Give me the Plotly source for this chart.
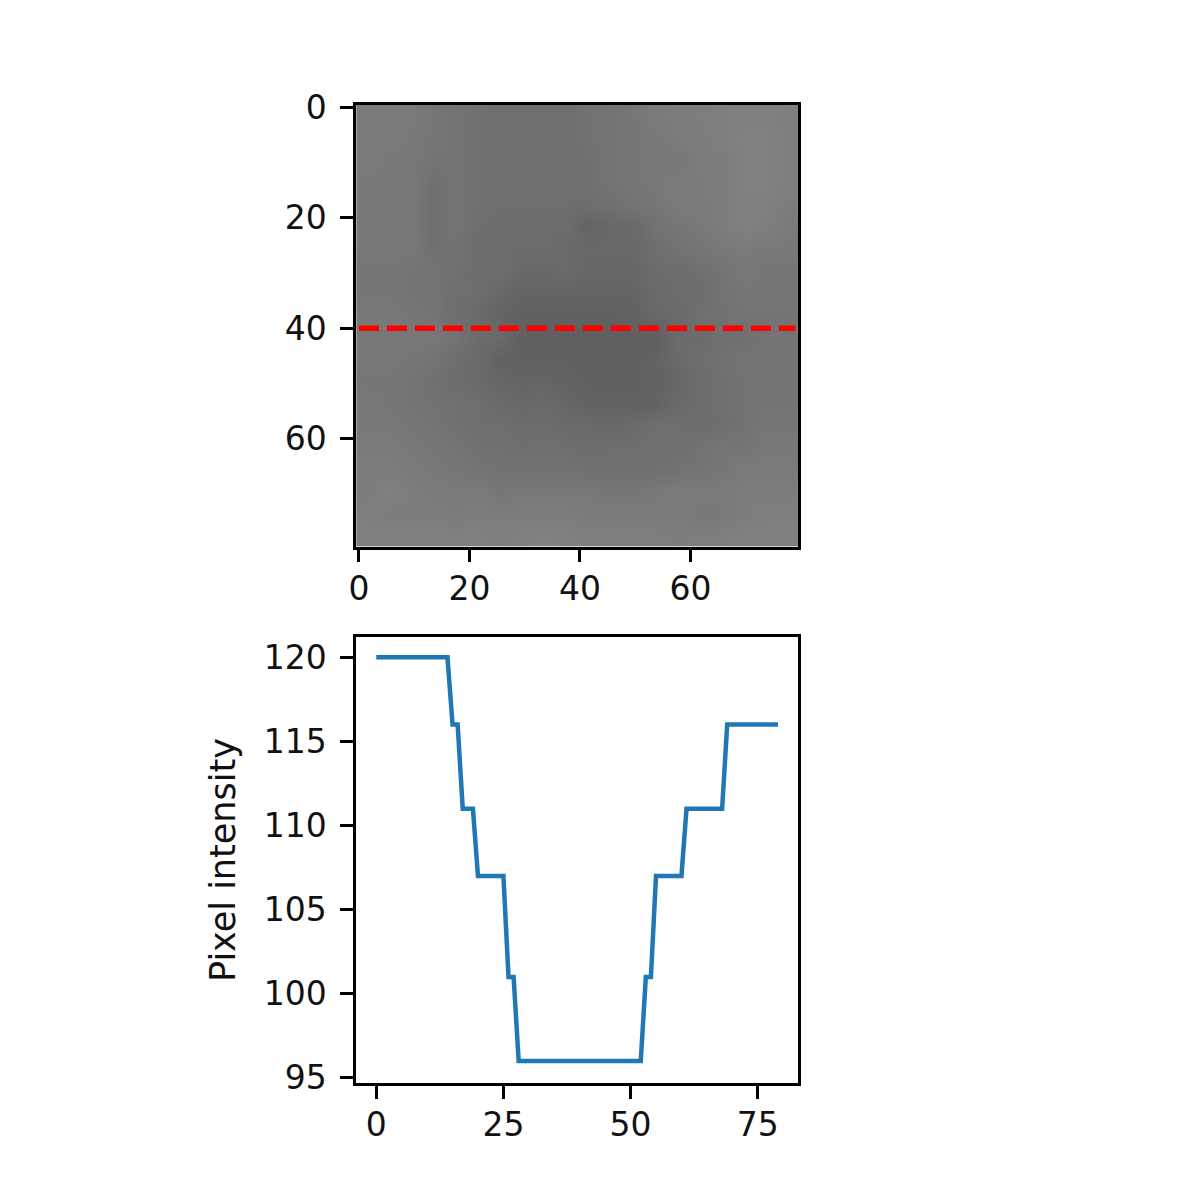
# -*- coding: utf-8 -*-
"""Grey image with a marked row and the intensity profile along that row."""

import plotly.graph_objects as go

# Edges of the image cells (4 pixels each)
CELL_EDGES = [-0.5 + 4 * i for i in range(21)]

IMAGE_ROWS = [
    [122, 122, 122, 118, 116, 112, 110, 110, 110, 110, 114, 116, 118, 122, 124, 125, 126, 128, 128, 126],
    [122, 122, 120, 118, 116, 112, 110, 110, 110, 110, 114, 116, 118, 120, 123, 124, 126, 130, 130, 126],
    [122, 120, 120, 116, 116, 112, 110, 110, 110, 110, 112, 116, 118, 120, 118, 124, 124, 130, 130, 126],
    [120, 120, 120, 112, 116, 112, 110, 110, 110, 110, 112, 116, 118, 120, 122, 122, 124, 130, 130, 126],
    [120, 120, 120, 110, 116, 112, 110, 110, 110, 110, 110, 112, 116, 118, 122, 122, 124, 128, 128, 124],
    [120, 120, 120, 110, 116, 110, 108, 108, 108, 108, 100, 104, 106, 114, 118, 120, 124, 128, 126, 122],
    [120, 120, 120, 112, 114, 108, 108, 108, 108, 106, 104, 104, 104, 110, 114, 118, 120, 122, 120, 120],
    [118, 118, 116, 116, 112, 108, 110, 104, 104, 106, 102, 102, 102, 108, 108, 112, 116, 120, 118, 118],
    [118, 118, 116, 116, 110, 110, 104, 100, 100, 100, 100, 100, 100, 106, 108, 108, 114, 118, 118, 118],
    [120, 120, 118, 116, 110, 106, 100, 97, 97, 97, 97, 97, 98, 104, 106, 112, 114, 116, 116, 116],
    [120, 120, 120, 120, 116, 107, 107, 96, 96, 96, 96, 96, 96, 96, 107, 107, 111, 111, 116, 116],
    [120, 120, 118, 116, 110, 106, 98, 97, 97, 97, 96, 96, 97, 98, 106, 110, 112, 116, 116, 116],
    [118, 118, 116, 112, 108, 106, 102, 100, 100, 99, 97, 97, 97, 98, 102, 108, 112, 114, 116, 116],
    [120, 118, 116, 114, 112, 110, 106, 104, 106, 102, 98, 98, 98, 98, 106, 108, 112, 114, 116, 116],
    [120, 120, 118, 116, 112, 110, 110, 108, 108, 106, 106, 104, 106, 110, 110, 108, 110, 114, 118, 118],
    [122, 122, 120, 118, 116, 112, 112, 110, 112, 110, 108, 110, 110, 112, 110, 114, 118, 116, 120, 120],
    [124, 124, 122, 120, 118, 116, 114, 114, 114, 114, 112, 112, 112, 112, 114, 116, 118, 122, 122, 122],
    [124, 128, 124, 122, 122, 122, 118, 120, 120, 120, 120, 118, 118, 120, 122, 122, 122, 124, 124, 124],
    [126, 124, 124, 124, 122, 124, 124, 124, 124, 124, 122, 122, 122, 122, 122, 120, 120, 124, 126, 126],
    [128, 128, 128, 128, 128, 128, 126, 128, 130, 128, 126, 126, 126, 126, 124, 126, 126, 128, 128, 128],
]

# Marked row
ROW_LINE_X = [0, 79]
ROW_LINE_Y = [40, 40]

# Intensity along that row
PROFILE_X = [0, 14, 15, 16, 17, 19, 20, 25, 26, 27, 28, 52, 53, 54, 55, 60, 61, 68, 69, 79]
PROFILE_Y = [120, 120, 116, 116, 111, 111, 107, 107, 101, 101, 96, 96, 101, 101, 107, 107, 111, 111, 116, 116]

IMAGE_TICKS = [0, 20, 40, 60]
PROFILE_X_TICKS = [0, 25, 50, 75]
PROFILE_Y_TICKS = [95, 100, 105, 110, 115, 120]

W, H = 1180, 1188

# Where the plot area ends up on the page, measured from the first render
PLOT_LEFT, PLOT_TOP, PLOT_W, PLOT_H = 11, 21, 1180, 1162.5


def dom_x(a, b):
    return [(a - PLOT_LEFT) / PLOT_W, (b - PLOT_LEFT) / PLOT_W]


def dom_y(top, bottom):
    return [1 - (bottom - PLOT_TOP) / PLOT_H, 1 - (top - PLOT_TOP) / PLOT_H]


AXIS = dict(showline=True, linecolor="black", linewidth=2.5, mirror=True,
            ticks="outside", ticklen=13, tickwidth=2.5, tickcolor="black",
            showgrid=False, zeroline=False,
            tickfont=dict(family="DejaVu Sans", size=33, color="#111111"))

fig = go.Figure()
fig.add_trace(go.Heatmap(x=CELL_EDGES, y=CELL_EDGES, z=IMAGE_ROWS, zmin=0, zmax=255,
                         colorscale=[[0, "black"], [1, "white"]], showscale=False,
                         zsmooth="best", xaxis="x", yaxis="y"))
fig.add_trace(go.Scatter(x=ROW_LINE_X, y=ROW_LINE_Y, mode="lines", xaxis="x", yaxis="y",
                         line=dict(color="red", width=5.5, dash="20px,8px")))
fig.add_trace(go.Scatter(x=PROFILE_X, y=PROFILE_Y, mode="lines", xaxis="x2", yaxis="y2",
                         line=dict(color="#1f77b4", width=4.5)))

fig.update_layout(
    width=W, height=H, margin=dict(l=0, r=0, t=0, b=0),
    paper_bgcolor="white", plot_bgcolor="white", showlegend=False,
    xaxis=dict(domain=dom_x(353.5, 798.5), range=[-0.5, 79.5], tickvals=IMAGE_TICKS, anchor="y",
               ticklabelstandoff=-2, **AXIS),
    yaxis=dict(domain=dom_y(101, 545), range=[79.5, -0.5], tickvals=IMAGE_TICKS, anchor="x",
               ticklabelstandoff=7, **AXIS),
    xaxis2=dict(domain=dom_x(353.5, 798.5), range=[-3.95, 82.95], tickvals=PROFILE_X_TICKS, anchor="y2",
                ticklabelstandoff=-2, **AXIS),
    yaxis2=dict(domain=dom_y(636, 1084), range=[94.7, 121.2], tickvals=PROFILE_Y_TICKS, anchor="x2",
                ticklabelstandoff=7,
                title=dict(text="Pixel intensity", standoff=18,
                           font=dict(family="DejaVu Sans", size=35, color="#111111")),
                **AXIS),
)

fig.write_html("out.html")
